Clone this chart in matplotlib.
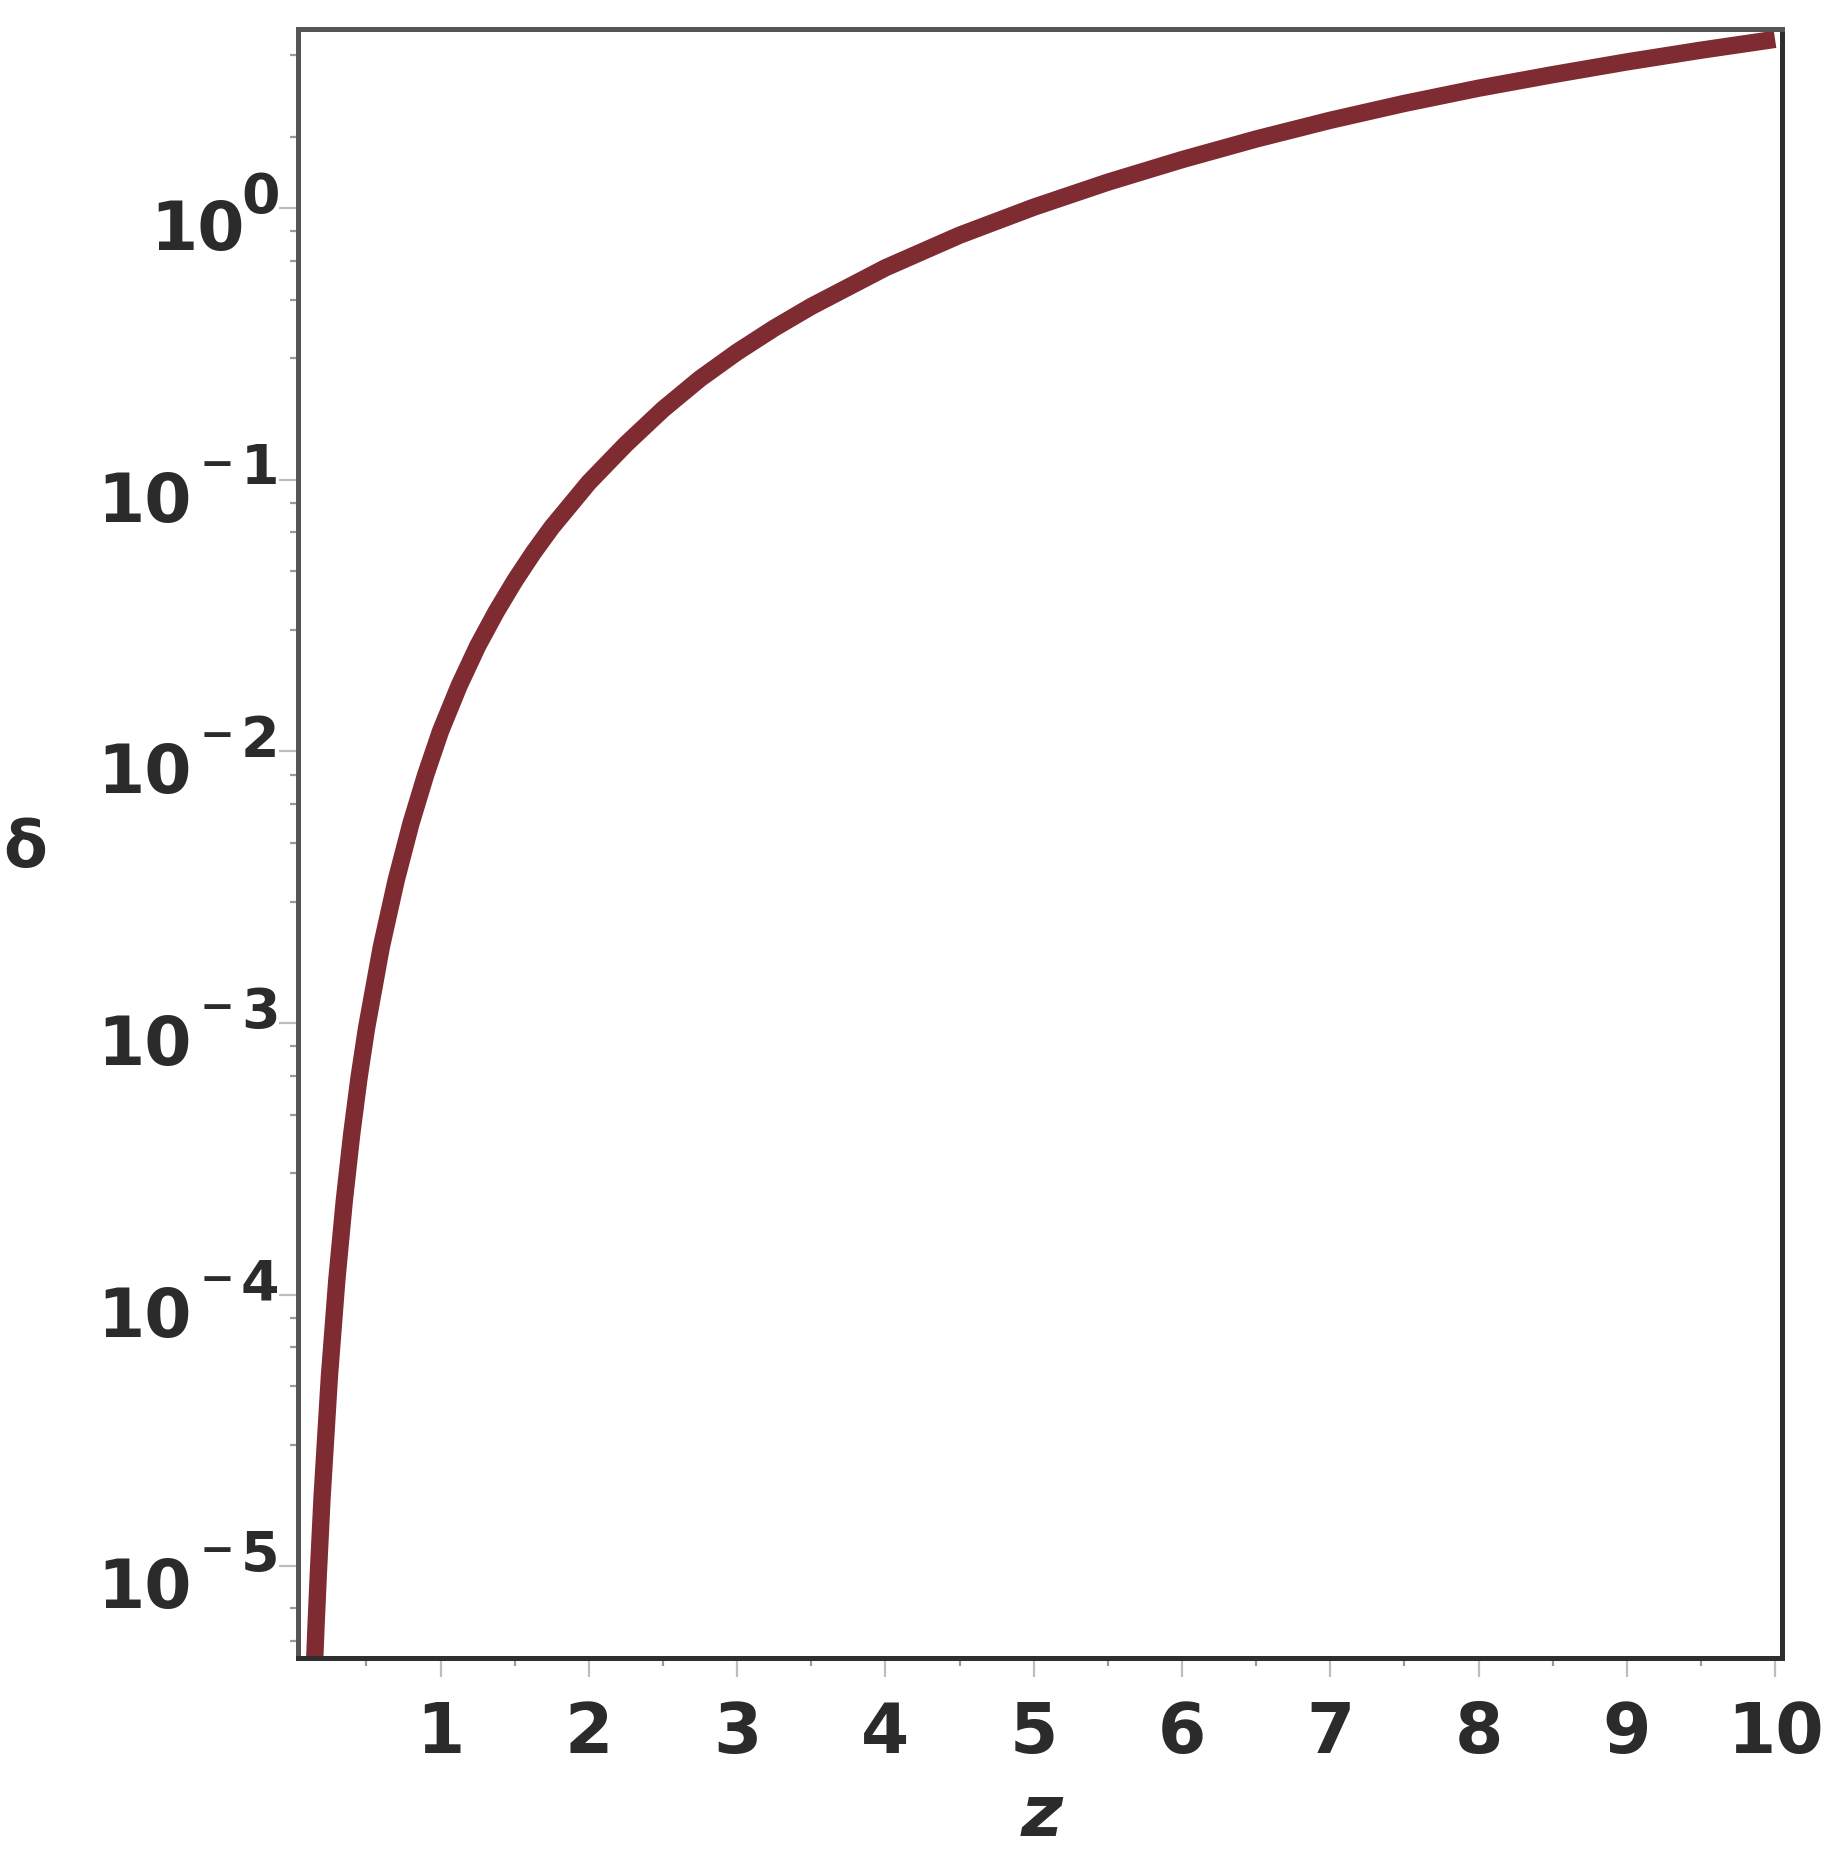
import matplotlib
matplotlib.use("Agg")
import matplotlib.pyplot as plt
from matplotlib.ticker import FixedLocator, FixedFormatter, NullFormatter

# curve (z, delta)
z = [0.146, 0.16, 0.175, 0.2, 0.25, 0.3, 0.35, 0.4, 0.45, 0.5,
     0.6, 0.7, 0.8, 0.9, 1.0, 1.125, 1.25, 1.375, 1.5, 1.625,
     1.75, 2.0, 2.25, 2.5, 2.75, 3.0, 3.25, 3.5, 4.0, 4.5,
     5.0, 5.5, 6.0, 6.5, 7.0, 7.5, 8.0, 8.5, 9.0, 9.5,
     10.0]
delta = [3.89e-6, 6.10e-6, 9.33e-6, 1.78e-5, 5.01e-5, 1.135e-4, 2.21e-4, 3.89e-4, 6.31e-4, 9.55e-4,
         1.905e-3, 3.35e-3, 5.43e-3, 8.22e-3, 0.01189, 0.01746, 0.02443, 0.03266, 0.04246, 0.05383,
         0.06683, 0.09772, 0.1352, 0.1816, 0.2355, 0.2951, 0.3614, 0.4345, 0.6026, 0.7943,
         1.007, 1.245, 1.507, 1.795, 2.104, 2.427, 2.761, 3.097, 3.451, 3.811,
         4.178]

x_major = [1, 2, 3, 4, 5, 6, 7, 8, 9, 10]
x_minor = [0.5, 1.5, 2.5, 3.5, 4.5, 5.5, 6.5, 7.5, 8.5, 9.5]
y_major = [1e-5, 1e-4, 1e-3, 1e-2, 1e-1, 1e0]
y_exponents = [-5, -4, -3, -2, -1, 0]
y_minor = [5.3e-6, 7.05e-6,
           2.8e-5, 4.6e-5, 6.4e-5, 8.2e-5,
           2.8e-4, 4.6e-4, 6.4e-4, 8.2e-4,
           2.8e-3, 4.6e-3, 6.4e-3, 8.2e-3,
           2.8e-2, 4.6e-2, 6.4e-2, 8.2e-2,
           2.8e-1, 4.6e-1, 6.4e-1, 8.2e-1,
           1.82, 3.65]

plt.rcParams["font.family"] = "DejaVu Sans"
TXT = "#2b2b2b"
PX = 0.72  # points per pixel at dpi 100

fig = plt.figure(figsize=(18.31, 18.72), dpi=100)
ax = fig.add_axes([0.1625, 0.1143, 0.811, 0.8702])

ax.plot(z, delta, color="#7e2b31", linewidth=12.5, solid_capstyle="butt")

ax.set_yscale("log")
ax.set_xlim(0.035, 10.05)
ax.set_ylim(4.6e-6, 4.56)

ax.xaxis.set_major_locator(FixedLocator(x_major))
ax.xaxis.set_major_formatter(FixedFormatter([str(v) for v in x_major]))
ax.xaxis.set_minor_locator(FixedLocator(x_minor))
ax.xaxis.set_minor_formatter(NullFormatter())

ax.yaxis.set_major_locator(FixedLocator(y_major))
ax.yaxis.set_major_formatter(NullFormatter())
ax.yaxis.set_minor_locator(FixedLocator(y_minor))
ax.yaxis.set_minor_formatter(NullFormatter())

ax.tick_params(axis="both", which="major", direction="out", length=14, width=1.6,
               color="#bdbdbd", labelcolor=TXT)
ax.tick_params(axis="both", which="minor", direction="out", length=6, width=1.6,
               color="#9a9a9a")
ax.tick_params(axis="x", which="major", pad=16, labelsize=50)
for lab in ax.get_xticklabels():
    lab.set_fontweight("bold")

# Maple style power labels: big "10", large raised exponent
ytr = ax.get_yaxis_transform()
for v, e in zip(y_major, y_exponents):
    if e == 0:
        ten_dx = -53
        sup = "0"
    else:
        ten_dx = -106
        sup = str(-e)
        ax.annotate("\u2212", xy=(0, v), xycoords=ytr, xytext=(-63 * PX, 15 * PX),
                    textcoords="offset points", ha="right", va="center",
                    fontsize=30, fontweight="bold", color=TXT)
    ax.annotate(sup, xy=(0, v), xycoords=ytr, xytext=(-18 * PX, -4.5 * PX),
                textcoords="offset points", ha="right", va="baseline",
                fontsize=40, fontweight="bold", color=TXT)
    ax.annotate("10", xy=(0, v), xycoords=ytr, xytext=(ten_dx * PX, -42 * PX),
                textcoords="offset points", ha="right", va="baseline",
                fontsize=49, fontweight="bold", color=TXT)

for side in ["top", "left"]:
    ax.spines[side].set_color("#555555")
    ax.spines[side].set_linewidth(3.6)
for side in ["bottom", "right"]:
    ax.spines[side].set_color("#2e2e2e")
    ax.spines[side].set_linewidth(3.6)

fig.text(1042 / 1831, 1 - 1817 / 1872, "z", fontsize=52, fontstyle="italic",
         fontweight="bold", color=TXT, ha="center", va="center")
fig.text(25 / 1831, 1 - 849 / 1872, "δ", fontsize=46, fontweight="bold",
         color=TXT, ha="center", va="center")

fig.savefig("out.png", dpi=100)
